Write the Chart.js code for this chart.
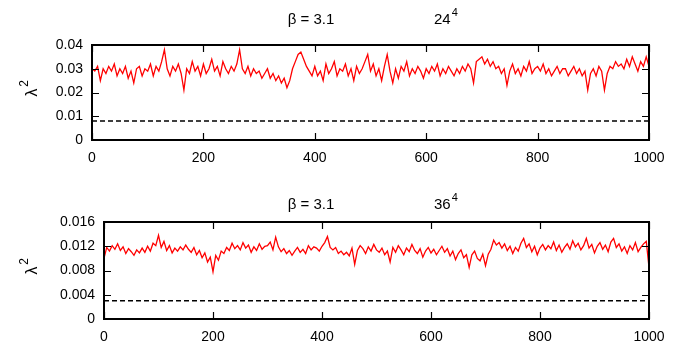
<!DOCTYPE html>
<html>
<head>
<meta charset="utf-8">
<script src="https://cdn.jsdelivr.net/npm/chart.js@4.4.0/dist/chart.umd.min.js"></script>
<style>
  body { margin: 0; background: #fff; }
  canvas { display: block; }
</style>
</head>
<body>
<canvas id="top" width="680" height="178"></canvas>
<canvas id="bottom" width="680" height="178"></canvas>
<script>
// sweep number (every 5th configuration)
const sweeps = Array.from({length: 201}, (_, i) => i * 5);

// chi^2 for beta = 3.1, 24^4
const chiTop = [
  0.030,0.029,0.031,0.025,0.030,0.028,0.031,0.029,0.032,0.027,
  0.030,0.028,0.031,0.026,0.029,0.024,0.030,0.031,0.027,0.030,
  0.029,0.032,0.027,0.031,0.029,0.033,0.038,0.030,0.027,0.031,
  0.029,0.032,0.028,0.021,0.030,0.028,0.033,0.029,0.031,0.027,
  0.032,0.028,0.030,0.034,0.029,0.031,0.027,0.033,0.030,0.028,
  0.031,0.029,0.032,0.038,0.030,0.028,0.031,0.027,0.030,0.028,
  0.029,0.026,0.028,0.030,0.026,0.028,0.025,0.027,0.024,0.026,
  0.022,0.025,0.030,0.033,0.036,0.037,0.034,0.031,0.029,0.027,
  0.031,0.027,0.029,0.025,0.032,0.028,0.030,0.033,0.027,0.030,
  0.029,0.032,0.027,0.030,0.025,0.031,0.028,0.030,0.033,0.036,
  0.029,0.032,0.027,0.030,0.025,0.031,0.036,0.029,0.024,0.030,
  0.026,0.031,0.029,0.033,0.027,0.030,0.028,0.031,0.029,0.026,
  0.030,0.028,0.031,0.029,0.032,0.027,0.030,0.028,0.031,0.029,
  0.027,0.030,0.028,0.031,0.029,0.032,0.030,0.024,0.033,0.034,
  0.035,0.032,0.034,0.031,0.033,0.030,0.031,0.028,0.030,0.023,
  0.029,0.032,0.028,0.030,0.027,0.031,0.029,0.033,0.028,0.030,
  0.031,0.029,0.032,0.028,0.030,0.027,0.029,0.031,0.028,0.030,
  0.030,0.027,0.029,0.031,0.028,0.030,0.027,0.029,0.021,0.028,
  0.030,0.027,0.031,0.029,0.021,0.028,0.031,0.030,0.033,0.031,
  0.032,0.030,0.034,0.031,0.035,0.032,0.029,0.033,0.031,0.035,
  0.031
];

// chi^2 for beta = 3.1, 36^4
const chiBottom = [
  0.0100,0.0118,0.0112,0.0121,0.0115,0.0124,0.0113,0.0119,0.0108,0.0116,
  0.0111,0.0105,0.0114,0.0109,0.0117,0.0110,0.0120,0.0112,0.0125,0.0121,
  0.0138,0.0118,0.0128,0.0113,0.0121,0.0109,0.0117,0.0112,0.0119,0.0114,
  0.0122,0.0115,0.0110,0.0118,0.0106,0.0113,0.0101,0.0109,0.0094,0.0102,
  0.0078,0.0105,0.0097,0.0112,0.0108,0.0118,0.0113,0.0125,0.0116,0.0121,
  0.0114,0.0126,0.0117,0.0122,0.0110,0.0119,0.0113,0.0124,0.0115,0.0120,
  0.0121,0.0127,0.0114,0.0135,0.0119,0.0111,0.0116,0.0108,0.0113,0.0105,
  0.0112,0.0118,0.0110,0.0115,0.0108,0.0121,0.0114,0.0119,0.0117,0.0112,
  0.0120,0.0126,0.0136,0.0118,0.0114,0.0118,0.0108,0.0112,0.0106,0.0110,
  0.0104,0.0117,0.0090,0.0113,0.0121,0.0116,0.0108,0.0119,0.0112,0.0123,
  0.0114,0.0110,0.0117,0.0106,0.0112,0.0094,0.0118,0.0110,0.0121,0.0114,
  0.0106,0.0117,0.0111,0.0123,0.0113,0.0108,0.0116,0.0102,0.0112,0.0118,
  0.0109,0.0115,0.0106,0.0113,0.0120,0.0110,0.0116,0.0104,0.0112,0.0098,
  0.0108,0.0114,0.0101,0.0106,0.0085,0.0106,0.0112,0.0100,0.0096,0.0107,
  0.0088,0.0107,0.0115,0.0130,0.0122,0.0126,0.0117,0.0124,0.0113,0.0120,
  0.0108,0.0118,0.0112,0.0125,0.0133,0.0118,0.0124,0.0111,0.0120,0.0106,
  0.0117,0.0123,0.0114,0.0121,0.0116,0.0127,0.0113,0.0122,0.0110,0.0118,
  0.0124,0.0115,0.0129,0.0119,0.0125,0.0114,0.0121,0.0133,0.0117,0.0123,
  0.0109,0.0120,0.0126,0.0115,0.0122,0.0111,0.0127,0.0133,0.0118,0.0124,
  0.0112,0.0119,0.0108,0.0121,0.0114,0.0126,0.0111,0.0118,0.0124,0.0128,
  0.0085
];

// dashed reference levels
const refTop = 0.008;
const refBottom = 0.003;

// tick labels
const xTicks = [0, 200, 400, 600, 800, 1000];
const xLabels = ['0', '200', '400', '600', '800', '1000'];
const yTicksTop = [0, 0.01, 0.02, 0.03, 0.04];
const yLabelsTop = ['0', '0.01', '0.02', '0.03', '0.04'];
const yTicksBottom = [0, 0.004, 0.008, 0.012, 0.016];
const yLabelsBottom = ['0', '0.004', '0.008', '0.012', '0.016'];

const FONT = '"Liberation Sans", Arial, sans-serif';

// frame, inward ticks, titles and y-axis title
const framePlugin = {
  id: 'frame',
  afterDraw(chart, args, opts) {
    const {ctx, chartArea: a, scales: {x, y}} = chart;
    ctx.save();
    ctx.strokeStyle = '#000';
    ctx.lineWidth = 1.2;
    ctx.beginPath();
    x.ticks.forEach(t => {
      const px = Math.round(x.getPixelForValue(t.value)) + 0.5;
      ctx.moveTo(px, a.bottom); ctx.lineTo(px, a.bottom - 7);
      ctx.moveTo(px, a.top); ctx.lineTo(px, a.top + 7);
    });
    y.ticks.forEach(t => {
      const py = Math.round(y.getPixelForValue(t.value)) + 0.5;
      ctx.moveTo(a.left, py); ctx.lineTo(a.left + 7, py);
      ctx.moveTo(a.right, py); ctx.lineTo(a.right - 7, py);
    });
    ctx.stroke();
    ctx.lineWidth = 2;
    ctx.strokeRect(a.left, a.top, a.right - a.left, a.bottom - a.top);

    ctx.fillStyle = '#000';
    ctx.textBaseline = 'middle';
    ctx.font = '15px ' + FONT;
    ctx.textAlign = 'center';
    ctx.fillText('β = 3.1', 311, opts.titleY);
    ctx.textAlign = 'left';
    ctx.fillText(opts.size, 434, opts.titleY);
    const w = ctx.measureText(opts.size).width;
    ctx.font = '11px ' + FONT;
    ctx.fillText('4', 434 + w + 1, opts.titleY - 7);

    // y title: lambda^2, rotated
    ctx.translate(opts.yTitleX, (a.top + a.bottom) / 2);
    ctx.rotate(-Math.PI / 2);
    ctx.font = '16px ' + FONT;
    ctx.textAlign = 'center';
    ctx.fillText('λ', 0, 0);
    ctx.font = '12px ' + FONT;
    ctx.fillText('2', 9, -8);
    ctx.restore();
  }
};

function makePanel(id, values, ref, yTicks, yLabels, p) {
  return new Chart(document.getElementById(id), {
    type: 'line',
    data: {
      datasets: [
        {
          data: sweeps.map((s, i) => ({x: s, y: values[i]})),
          borderColor: '#ff0000',
          borderWidth: 1.3,
          pointRadius: 0,
          tension: 0
        },
        {
          data: [{x: 0, y: ref}, {x: 1000, y: ref}],
          borderColor: '#000',
          borderWidth: 1.5,
          borderDash: [5, 3],
          pointRadius: 0
        }
      ]
    },
    options: {
      responsive: false,
      animation: false,
      events: [],
      layout: {padding: {top: p.top, right: 31, left: 0, bottom: 0}},
      plugins: {
        legend: {display: false},
        tooltip: {enabled: false},
        frame: {titleY: p.titleY, size: p.size, yTitleX: p.yTitleX}
      },
      scales: {
        x: {
          type: 'linear',
          min: 0, max: 1000,
          grid: {display: false, drawTicks: false},
          border: {display: false},
          afterBuildTicks: s => { s.ticks = xTicks.map(v => ({value: v})); },
          afterFit: s => { s.height = p.xHeight; },
          ticks: {
            padding: 10,
            maxRotation: 0,
            color: '#000',
            font: {family: FONT, size: 14},
            callback: (v, i) => xLabels[i]
          }
        },
        y: {
          min: 0, max: yTicks[yTicks.length - 1],
          grid: {display: false, drawTicks: false},
          border: {display: false},
          afterBuildTicks: s => { s.ticks = yTicks.map(v => ({value: v})); },
          afterFit: s => { s.width = p.left; },
          ticks: {
            padding: 9,
            color: '#000',
            font: {family: FONT, size: 14},
            callback: (v, i) => yLabels[i]
          }
        }
      }
    },
    plugins: [framePlugin]
  });
}

makePanel('top', chiTop, refTop, yTicksTop, yLabelsTop,
  {top: 45, left: 92, xHeight: 38, titleY: 20, size: '24', yTitleX: 33});
makePanel('bottom', chiBottom, refBottom, yTicksBottom, yLabelsBottom,
  {top: 44, left: 104, xHeight: 37, titleY: 27, size: '36', yTitleX: 33});
</script>
</body>
</html>
